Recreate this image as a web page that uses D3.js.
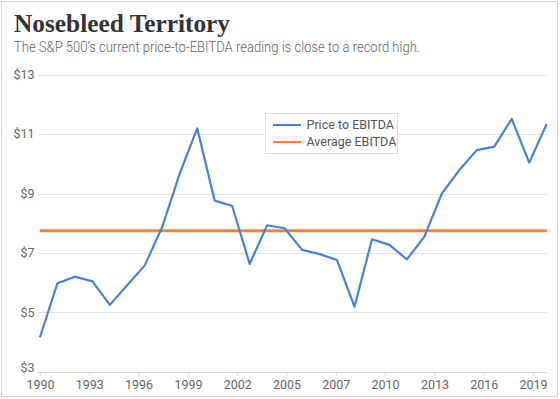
<!DOCTYPE html>
<html>
<head>
<meta charset="UTF-8">
<title>Nosebleed Territory</title>
<style>
  body { margin: 0; background: #ffffff; }
  svg { display: block; }
</style>
</head>
<body>
<svg></svg>
<script src="https://d3js.org/d3.v7.min.js"></script>
<script>

// data
let years = [1990, 1991, 1992, 1993, 1994, 1995, 1996, 1997, 1998, 1999,
             2000, 2001, 2002, 2003, 2004, 2005, 2006, 2007, 2008, 2009,
             2010, 2011, 2012, 2013, 2014, 2015, 2016, 2017, 2018, 2019];
let priceToEbitda = [4.16, 5.98, 6.20, 6.04, 5.25, 5.92, 6.58, 7.88, 9.68, 11.19,
                     8.76, 8.58, 6.63, 7.93, 7.83, 7.10, 6.96, 6.76, 5.19, 7.46,
                     7.27, 6.78, 7.55, 9.00, 9.79, 10.46, 10.58, 11.51, 10.04, 11.34];
let averageEbitda = 7.75;

let xTickValues = [1990, 1992.82, 1995.64, 1998.47, 2001.29, 2004.11, 2006.93, 2009.75, 2012.58, 2015.4, 2018.22];
let xTickLabels = ["1990", "1993", "1996", "1999", "2002", "2005", "2007", "2010", "2013", "2016", "2019"];
let yTickValues = [3, 5, 7, 9, 11, 13];

let seriesNames = ["Price to EBITDA", "Average EBITDA"];
let seriesColors = ["#4a80d4", "#f5843a"];

let width = 560, height = 399;

let svg = d3.select("svg")
    .attr("width", width)
    .attr("height", height);

svg.append("rect")
    .attr("x", 1.5).attr("y", 1.5)
    .attr("width", 556).attr("height", 395)
    .attr("fill", "#ffffff")
    .attr("stroke", "#d4d4d4");

// title + subtitle
svg.append("text")
    .attr("x", 14).attr("y", 32)
    .attr("font-family", "Liberation Serif, serif")
    .attr("font-weight", "bold")
    .attr("font-size", 25)
    .attr("fill", "#333333")
    .attr("textLength", 216)
    .attr("lengthAdjust", "spacingAndGlyphs")
    .text("Nosebleed Territory");

svg.append("text")
    .attr("x", 14).attr("y", 51.5)
    .attr("font-family", "Roboto, sans-serif")
    .attr("font-weight", 300)
    .attr("font-size", 14.5)
    .attr("fill", "#666666")
    .attr("textLength", 406)
    .attr("lengthAdjust", "spacingAndGlyphs")
    .text("The S\u0026P 500\u2019s current price-to-EBITDA reading is close to a record high.");

let x = d3.scaleLinear()
    .domain([1990, 2019])
    .range([40, 546.7]);

let y = d3.scaleLinear()
    .domain([3, 13])
    .range([371.7, 74.7]);

// horizontal grid
svg.append("g")
    .selectAll("line")
    .data(yTickValues.filter(v => v !== 3))
    .enter()
    .append("line")
        .attr("x1", 38).attr("x2", 547)
        .attr("y1", d => Math.round(y(d)) + 0.5)
        .attr("y2", d => Math.round(y(d)) + 0.5)
        .attr("stroke", "#e2e2e2")
        .attr("stroke-width", 1);

// y labels (the bottom one sits a bit above its line, as in the original)
svg.append("g")
    .selectAll("text")
    .data(yTickValues)
    .enter()
    .append("text")
        .attr("x", 34.5)
        .attr("y", (d, i) => y(d) - (i === 0 ? 4 : 0))
        .attr("dy", "0.35em")
        .attr("text-anchor", "end")
        .attr("font-family", "Roboto, sans-serif")
        .attr("font-size", 12.5)
        .attr("fill", "#666666")
        .text(d => "$" + d);

// x axis
let xAxis = svg.append("g")
    .attr("transform", "translate(0," + (Math.round(y(3)) + 0.5) + ")")
    .call(d3.axisBottom(x)
        .tickValues(xTickValues)
        .tickFormat((d, i) => xTickLabels[i])
        .tickSize(3)
        .tickSizeOuter(0)
        .tickPadding(5));

xAxis.select(".domain")
    .attr("d", "M38,0H547")
    .attr("stroke", "#d6d6d6");
xAxis.selectAll(".tick line").attr("stroke", "#d6d6d6");
xAxis.selectAll(".tick text")
    .attr("font-family", "Roboto, sans-serif")
    .attr("font-size", 12.5)
    .attr("fill", "#666666");

// average line
svg.append("line")
    .attr("x1", x(years[0]))
    .attr("x2", x(years[years.length - 1]))
    .attr("y1", y(averageEbitda))
    .attr("y2", y(averageEbitda))
    .attr("stroke", seriesColors[1])
    .attr("stroke-width", 3);

// price line
let line = d3.line()
    .x((d, i) => x(years[i]))
    .y(d => y(d));

svg.append("path")
    .datum(priceToEbitda)
    .attr("d", line)
    .attr("fill", "none")
    .attr("stroke", seriesColors[0])
    .attr("stroke-width", 2.2)
    .attr("stroke-linejoin", "round");

// legend
let legend = svg.append("g").attr("transform", "translate(265.5,113.5)");
legend.append("rect")
    .attr("width", 132).attr("height", 40)
    .attr("fill", "#ffffff")
    .attr("stroke", "#dcdcdc");

let items = legend.selectAll("g.item")
    .data(seriesNames)
    .enter()
    .append("g")
        .attr("class", "item")
        .attr("transform", (d, i) => "translate(0," + (11.5 + i * 17) + ")");

items.append("line")
    .attr("x1", 7.5).attr("x2", 35.5)
    .attr("stroke", (d, i) => seriesColors[i])
    .attr("stroke-width", 2);

items.append("text")
    .attr("x", 41)
    .attr("dy", "0.35em")
    .attr("font-family", "Roboto, sans-serif")
    .attr("font-size", 12.5)
    .attr("fill", "#555555")
    .text(d => d);

</script>
</body>
</html>
